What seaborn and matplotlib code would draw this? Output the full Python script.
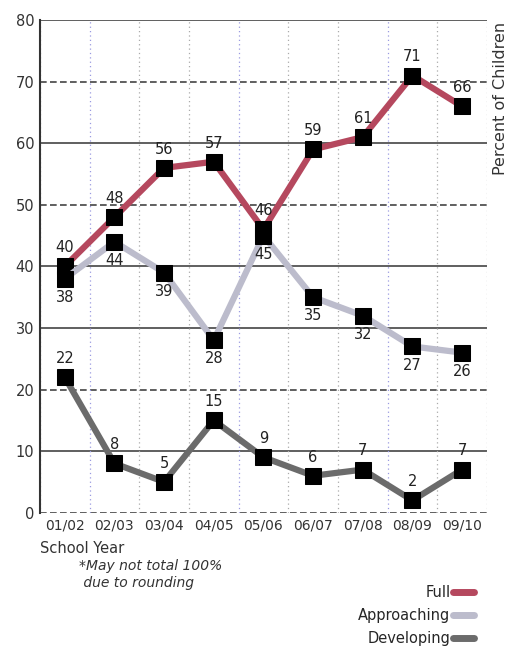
import matplotlib
matplotlib.use("Agg")
import matplotlib.pyplot as plt
import seaborn as sns
import pandas as pd
from matplotlib.lines import Line2D

years = ["01/02", "02/03", "03/04", "04/05", "05/06", "06/07", "07/08", "08/09", "09/10"]
full = [40, 48, 56, 57, 46, 59, 61, 71, 66]
approaching = [38, 44, 39, 28, 45, 35, 32, 27, 26]
developing = [22, 8, 5, 15, 9, 6, 7, 2, 7]

series = ["Full", "Approaching", "Developing"]
colors = {"Full": "#b5485e", "Approaching": "#bcbccc", "Developing": "#6b6b6b"}

# long-format cho seaborn
df = pd.DataFrame({"Year": years * 3,
                   "Value": full + approaching + developing,
                   "Level": [s for s in series for _ in years]})
df["x"] = list(range(len(years))) * 3

sns.set_style("white")
plt.rcParams["font.family"] = ["DejaVu Sans"]

fig = plt.figure(figsize=(5.12, 6.49), dpi=100)
ax = fig.add_axes([0.078, 0.21, 0.873, 0.759])

# grid
for y in [10, 30, 40, 60, 80]:
    ax.axhline(y, color="#444444", lw=1.2, zorder=0)
for y in [0, 20, 50, 70]:
    ax.axhline(y, color="#444444", lw=1.2, ls=(0, (4, 2)), zorder=0)
for i in range(len(years) + 1):
    c = "#9a9ae0" if i % 3 == 1 else "#aaaaaa"
    ax.axvline(i - 0.5, color=c, lw=0.9, ls=(0, (1, 2.5)), zorder=0)

sns.lineplot(data=df, x="x", y="Value", hue="Level", palette=colors,
             linewidth=4.5, marker="s", markersize=11.5, markerfacecolor="black",
             markeredgecolor="black", legend=False, ax=ax, zorder=3)

# nhãn số liệu
offsets = {"Full": 1, "Approaching": -1, "Developing": 1}
for s, vals in zip(series, [full, approaching, developing]):
    for i, v in enumerate(vals):
        ax.annotate(str(v), (i, v), xytext=(0, 8 * offsets[s]),
                    textcoords="offset points", ha="center",
                    va="bottom" if offsets[s] > 0 else "top",
                    fontsize=10.5, color="#222222", zorder=4)

ax.set_xlim(-0.5, len(years) - 0.5)
ax.set_ylim(0, 80)
ax.set_xticks(range(len(years)))
ax.set_xticklabels(years, fontsize=10, color="#333333")
ax.set_yticks(range(0, 81, 10))
ax.set_yticklabels([str(t) for t in range(0, 81, 10)], fontsize=10.5, color="#333333")
ax.tick_params(length=0, pad=4)
ax.set_xlabel("")
ax.set_ylabel("")
for sp in ax.spines.values():
    sp.set_visible(False)
ax.spines["left"].set_visible(True)
ax.spines["left"].set_color("#333333")
ax.spines["left"].set_linewidth(1.5)

fig.text(0.978, 0.966, "Percent of Children", rotation=90, ha="center", va="top",
         fontsize=11.5, color="#333333")
fig.text(0.078, 0.148, "School Year", fontsize=10.5, color="#333333")
fig.text(0.155, 0.115, "*May not total 100%\n due to rounding", fontsize=10,
         style="italic", color="#333333", va="center", linespacing=1.3)

handles = [Line2D([0], [0], color=colors[s], lw=5) for s in series]
ax.legend(handles, series, loc="upper right", bbox_to_anchor=(1.0, -0.12),
          frameon=False, markerfirst=False, handlelength=1.4, handletextpad=0.2,
          labelspacing=0.55, fontsize=10.5)

fig.savefig("out.png", dpi=100)
